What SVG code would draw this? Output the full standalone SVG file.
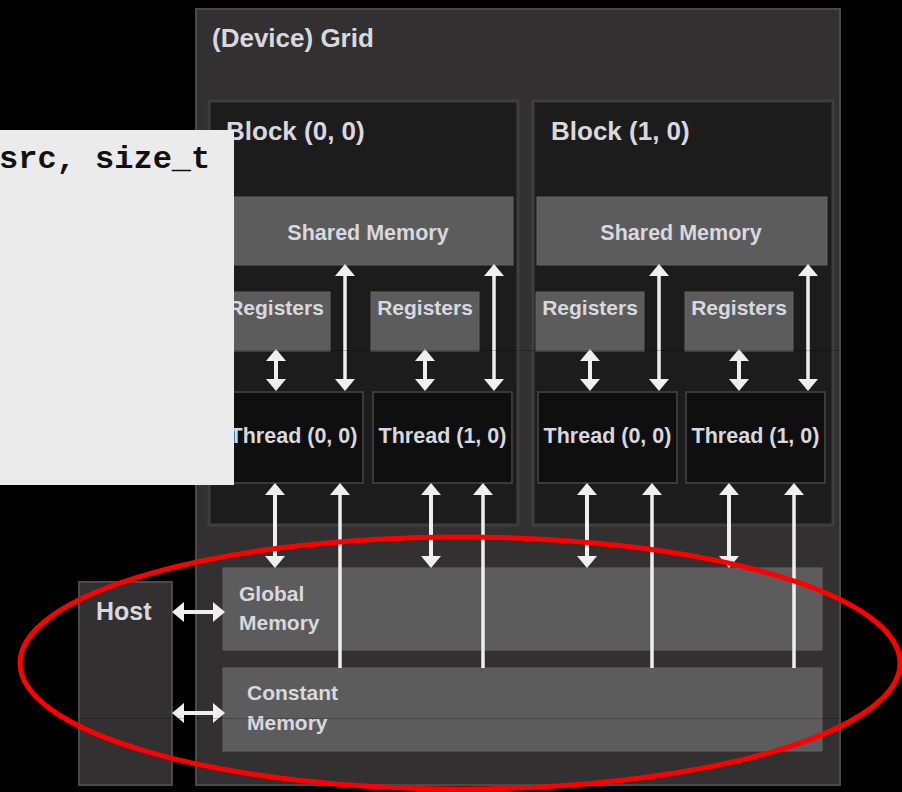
<svg xmlns="http://www.w3.org/2000/svg" width="902" height="792" viewBox="0 0 902 792">
<style>
.t{font-family:"Liberation Sans",Arial,sans-serif;font-weight:bold;fill:#d7d9de}
.big{font-size:26px}
.mid{font-size:21.5px}
.c{text-anchor:middle}
.box{fill:#323031;stroke:#4a4a4a;stroke-width:2}
.blk{fill:#1c1c1c;stroke:#3e3e3e;stroke-width:3}
.mem{fill:#5d5c5d;stroke:#646364;stroke-width:1}
.thr{fill:#0f0f0f;stroke:#3a3a3a;stroke-width:2}
.ar{stroke:#efefef;stroke-width:4;fill:none}
.ln{stroke:#efefef;stroke-width:3.5;fill:none}
.d{marker-start:url(#h);marker-end:url(#h)}
.u{marker-start:url(#h)}
</style>
<defs>
<marker id="h" viewBox="0 0 12 20" refX="2" refY="10" markerWidth="12" markerHeight="20" markerUnits="userSpaceOnUse" orient="auto-start-reverse">
<path d="M0,0 L12,10 L0,20 Z" fill="#efefef"/>
</marker>
</defs>
<rect width="902" height="792" fill="#000"/>
<g id="grid">
<rect class="box" x="196" y="9" width="644" height="776"/>
<text class="t big" x="212" y="47">(Device) Grid</text>
</g>
<g id="host">
<rect class="box" x="79" y="582" width="93" height="203"/>
<text class="t" x="96" y="620" font-size="25">Host</text>
</g>
<g id="block00">
<rect class="blk" x="209" y="101" width="309" height="424"/>
<text class="t big" x="226" y="140">Block (0, 0)</text>
</g>
<g id="block10">
<rect class="blk" x="533" y="101" width="300" height="424"/>
<text class="t big" x="551" y="140">Block (1, 0)</text>
</g>
<g id="shared0">
<rect class="mem" x="223" y="197" width="290" height="68"/>
<text class="t mid c" x="368" y="240">Shared Memory</text>
</g>
<g id="shared1">
<rect class="mem" x="537" y="197" width="290" height="68"/>
<text class="t mid c" x="681" y="240">Shared Memory</text>
</g>
<g id="reg00">
<rect class="mem" x="222" y="292" width="108" height="59"/>
<text class="t c" font-size="21" x="276" y="315">Registers</text>
</g>
<g id="reg01">
<rect class="mem" x="371" y="292" width="108" height="59"/>
<text class="t c" font-size="21" x="425" y="315">Registers</text>
</g>
<g id="reg10">
<rect class="mem" x="536" y="292" width="108" height="59"/>
<text class="t c" font-size="21" x="590" y="315">Registers</text>
</g>
<g id="reg11">
<rect class="mem" x="685" y="292" width="108" height="59"/>
<text class="t c" font-size="21" x="739" y="315">Registers</text>
</g>
<g id="thr00">
<rect class="thr" x="224" y="392" width="139" height="91"/>
<text class="t mid c" x="293.5" y="443">Thread (0, 0)</text>
</g>
<g id="thr01">
<rect class="thr" x="373" y="392" width="139" height="91"/>
<text class="t mid c" x="442.5" y="443">Thread (1, 0)</text>
</g>
<g id="thr10">
<rect class="thr" x="538" y="392" width="139" height="91"/>
<text class="t mid c" x="607.5" y="443">Thread (0, 0)</text>
</g>
<g id="thr11">
<rect class="thr" x="686" y="392" width="139" height="91"/>
<text class="t mid c" x="755.5" y="443">Thread (1, 0)</text>
</g>
<g id="global">
<rect class="mem" x="223" y="568" width="599" height="82"/>
<text class="t" font-size="21" x="239" y="601">Global</text>
<text class="t" font-size="21" x="239" y="630">Memory</text>
</g>
<g id="constant">
<rect class="mem" x="223" y="668" width="599" height="83"/>
<text class="t" font-size="21" x="247" y="700">Constant</text>
<text class="t" font-size="21" x="247" y="730">Memory</text>
</g>
<g id="connectors">
<line class="ar d" x1="276" y1="359" x2="276" y2="381"/>
<line class="ar d" x1="425" y1="359" x2="425" y2="381"/>
<line class="ar d" x1="590" y1="359" x2="590" y2="381"/>
<line class="ar d" x1="739" y1="359" x2="739" y2="381"/>
<line class="ln d" x1="345" y1="274" x2="345" y2="381"/>
<line class="ln d" x1="494" y1="274" x2="494" y2="381"/>
<line class="ln d" x1="659" y1="274" x2="659" y2="381"/>
<line class="ln d" x1="808" y1="274" x2="808" y2="381"/>
<line class="ar d" x1="275" y1="493" x2="275" y2="558"/>
<line class="ar d" x1="431" y1="493" x2="431" y2="558"/>
<line class="ar d" x1="587" y1="493" x2="587" y2="558"/>
<line class="ar d" x1="729" y1="493" x2="729" y2="558"/>
<line class="ln u" x1="340" y1="493" x2="340" y2="668"/>
<line class="ln u" x1="483" y1="493" x2="483" y2="668"/>
<line class="ln u" x1="652" y1="493" x2="652" y2="668"/>
<line class="ln u" x1="794" y1="493" x2="794" y2="668"/>
<line class="ar d" x1="182" y1="612" x2="215" y2="612"/>
<line class="ar d" x1="182" y1="713" x2="215" y2="713"/>
</g>
<g id="seams" stroke="#000" stroke-opacity="0.22" stroke-width="1">
<path d="M196,350.5H840M79,718.5H840"/>
</g>
<g id="code">
<rect x="0" y="130" width="234" height="355" fill="#ebebeb"/>
<text x="-1" y="168" font-family="'Liberation Mono','Courier New',monospace" font-weight="bold" font-size="32" fill="#111">src, size_t</text>
</g>
<ellipse cx="460" cy="663" rx="440" ry="126" fill="none" stroke="#ff0000" stroke-width="5"/>
</svg>
